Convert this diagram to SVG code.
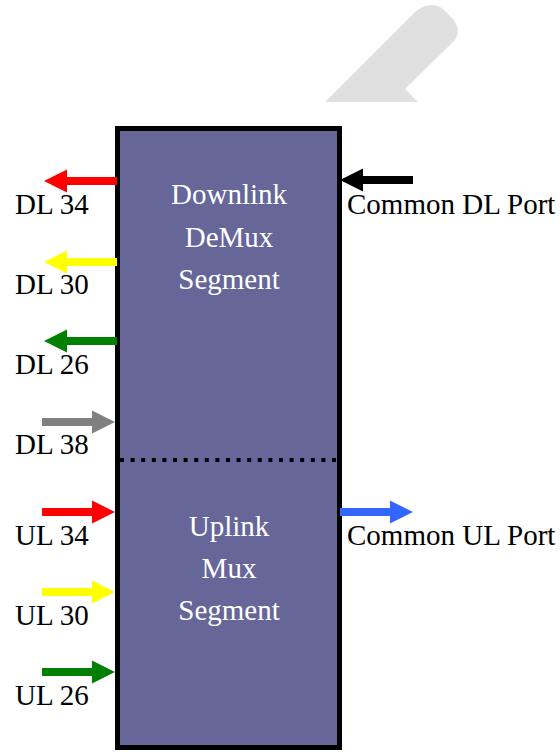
<svg xmlns="http://www.w3.org/2000/svg" xmlns:xlink="http://www.w3.org/1999/xlink" width="560" height="752" viewBox="0 0 560 752">
<style>
text{font-family:"Liberation Serif","Times New Roman",serif;font-size:29px}
.lbl{fill:#000}
.in{fill:#fff;text-anchor:middle}
</style>
<defs>
<path id="arrL" d="M0,0 L23,-11.5 L23,-4 L73,-4 L73,4 L23,4 L23,11.5 Z"/>
<path id="arrR" d="M0,0 L-23,-11.5 L-23,-4 L-73,-4 L-73,4 L-23,4 L-23,11.5 Z"/>
</defs>
<rect width="560" height="752" fill="#fff"/>
<g id="watermark">
<path d="M325,102 L414,13 Q428,0 442,8 L452,18 Q462,30 455,40 L405,89 L418,102 Z" fill="#e0e0e0"/>
</g>
<g id="mux-box">
<rect x="117.5" y="128.5" width="222" height="619" fill="#666699" stroke="#000" stroke-width="5"/>
<line x1="120" y1="460" x2="337" y2="460" stroke="#000" stroke-width="4" stroke-dasharray="4,6.6"/>
<text class="in" x="229" y="204">Downlink</text>
<text class="in" x="229" y="247">DeMux</text>
<text class="in" x="229" y="289">Segment</text>
<text class="in" x="229" y="536">Uplink</text>
<text class="in" x="229" y="578">Mux</text>
<text class="in" x="229" y="620">Segment</text>
</g>
<g id="connectors">
<use xlink:href="#arrL" x="44" y="181" fill="#ff0000"/>
<use xlink:href="#arrL" x="44" y="262" fill="#ffff00"/>
<use xlink:href="#arrL" x="44" y="341" fill="#008000"/>
<use xlink:href="#arrR" x="115" y="422" fill="#808080"/>
<use xlink:href="#arrR" x="115" y="512" fill="#ff0000"/>
<use xlink:href="#arrR" x="115" y="592" fill="#ffff00"/>
<use xlink:href="#arrR" x="115" y="672" fill="#008000"/>
<use xlink:href="#arrL" x="340" y="180" fill="#000"/>
<use xlink:href="#arrR" x="413" y="512" fill="#3366ff"/>
</g>
<g id="labels">
<text class="lbl" x="15" y="214">DL 34</text>
<text class="lbl" x="15" y="294">DL 30</text>
<text class="lbl" x="15" y="374">DL 26</text>
<text class="lbl" x="15" y="454">DL 38</text>
<text class="lbl" x="15" y="545">UL 34</text>
<text class="lbl" x="15" y="625">UL 30</text>
<text class="lbl" x="15" y="705">UL 26</text>
<text class="lbl" x="347" y="214">Common DL Port</text>
<text class="lbl" x="347" y="545">Common UL Port</text>
</g>
</svg>
